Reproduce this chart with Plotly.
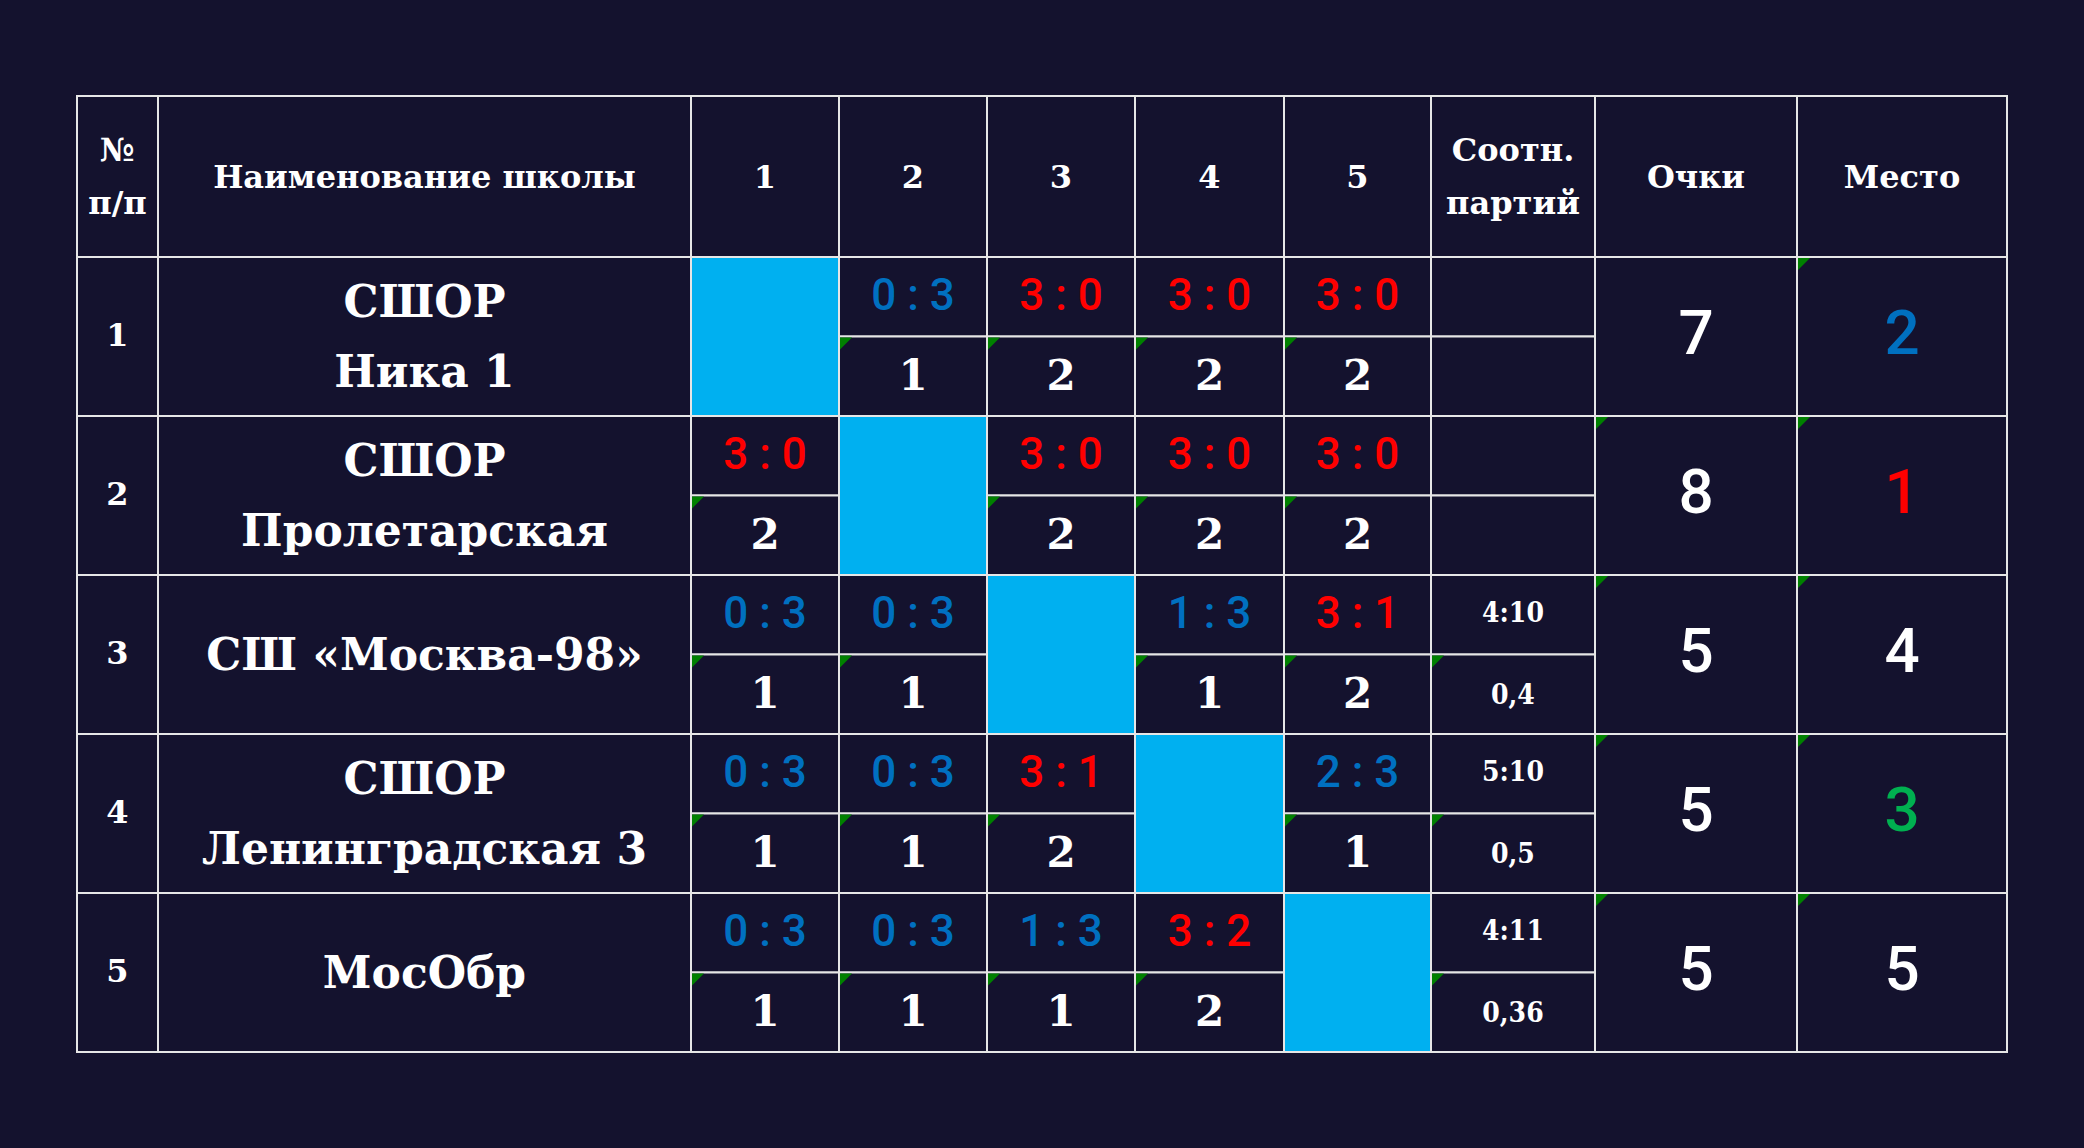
import plotly.graph_objects as go

# ── Couleurs / polices ────────────────────────────────────────────────────────
BG = "#14122e"
GRID = "#e6e6e6"
CYAN = "#00b0f0"
BLUE = "#0070c0"
RED = "#ff0000"
GREEN = "#00b050"
FLAG = "#008000"
WHITE = "#ffffff"

SLAB = "Roboto Slab, DejaVu Serif, serif"
SLAB_NARROW = "DejaVu Serif Condensed, DejaVu Serif, serif"
SANS = "Roboto, Noto Sans, sans-serif"

# ── Données ───────────────────────────────────────────────────────────────────
headers = ["№\nп/п", "Наименование школы", "1", "2", "3", "4", "5",
           "Соотн.\nпартий", "Очки", "Место"]
schools = ["СШОР\nНика 1", "СШОР\nПролетарская", "СШ «Москва-98»",
           "СШОР\nЛенинградская 3", "МосОбр"]
scores = [
    [None, "0 : 3", "3 : 0", "3 : 0", "3 : 0"],
    ["3 : 0", None, "3 : 0", "3 : 0", "3 : 0"],
    ["0 : 3", "0 : 3", None, "1 : 3", "3 : 1"],
    ["0 : 3", "0 : 3", "3 : 1", None, "2 : 3"],
    ["0 : 3", "0 : 3", "1 : 3", "3 : 2", None],
]
game_pts = [
    [None, 1, 2, 2, 2],
    [2, None, 2, 2, 2],
    [1, 1, None, 1, 2],
    [1, 1, 2, None, 1],
    [1, 1, 1, 2, None],
]
set_ratio = ["", "", "4:10", "5:10", "4:11"]
set_coef = ["", "", "0,4", "0,5", "0,36"]
points = [7, 8, 5, 5, 5]
places = [2, 1, 4, 3, 5]
place_colors = [BLUE, RED, WHITE, GREEN, WHITE]

# ── Mise en page du tableau ───────────────────────────────────────────────────
W, H = 2084, 1148
COL_W = [81, 533, 148, 148, 148, 149, 147, 164, 202, 210]
X0, Y0 = 77, 96
HEAD_H, ROW_H = 161, 159
TRI = 13

xs = [X0]
for w in COL_W:
    xs.append(xs[-1] + w)
ys = [Y0, Y0 + HEAD_H]
for _ in schools:
    ys.append(ys[-1] + ROW_H)

shapes = []
texts = {}


def cell(x0, y0, x1, y1, fill=BG):
    shapes.append(dict(type="rect", x0=x0, y0=y0, x1=x1, y1=y1, xref="x", yref="y",
                       fillcolor=fill, line=dict(color=GRID, width=2), layer="below"))


def flag(x0, y0):
    shapes.append(dict(type="path", xref="x", yref="y",
                       path=f"M {x0 + 1},{y0 + 1} L {x0 + TRI},{y0 + 1} L {x0 + 1},{y0 + TRI} Z",
                       fillcolor=FLAG, line=dict(width=0), layer="above"))


def put(style, x, y, txt, spacing=0):
    lines = txt.split("\n")
    n = len(lines)
    for k, line in enumerate(lines):
        texts.setdefault(style, []).append((x, y + (k - (n - 1) / 2) * spacing, line))


def cx(j):
    return (xs[j] + xs[j + 1]) / 2


# en-tête
for j, h in enumerate(headers):
    cell(xs[j], ys[0], xs[j + 1], ys[1])
    put("head", cx(j), (ys[0] + ys[1]) / 2 + 3, h, spacing=53)

for i, name in enumerate(schools):
    top, bot = ys[i + 1], ys[i + 2]
    mid = (top + bot) / 2
    cell(xs[0], top, xs[1], bot)
    put("num", cx(0), mid + 1, str(i + 1))
    cell(xs[1], top, xs[2], bot)
    put("name", cx(1), mid + 4, name, spacing=70)

    for k in range(5):
        j = k + 2
        if scores[i][k] is None:
            cell(xs[j], top, xs[j + 1], bot, fill=CYAN)
            continue
        cell(xs[j], top, xs[j + 1], mid)
        cell(xs[j], mid, xs[j + 1], bot)
        a, b = [int(v) for v in scores[i][k].split(":")]
        put("win" if a > b else "loss", cx(j), (top + mid) / 2 + 2, scores[i][k])
        put("pts", cx(j), (mid + bot) / 2 + 3, str(game_pts[i][k]))
        flag(xs[j], mid)

    cell(xs[7], top, xs[8], mid)
    cell(xs[7], mid, xs[8], bot)
    if set_ratio[i]:
        put("ratio", cx(7), (top + mid) / 2, set_ratio[i])
        put("ratio", cx(7), (mid + bot) / 2 + 3, set_coef[i])
        flag(xs[7], mid)

    cell(xs[8], top, xs[9], bot)
    put("total", cx(8), mid + 2, str(points[i]))
    if i > 0:
        flag(xs[8], top)
    cell(xs[9], top, xs[10], bot)
    put("place%d" % i, cx(9), mid + 2, str(places[i]))
    flag(xs[9], top)

STYLES = {
    "head": dict(family=SLAB, size=32, color=WHITE, weight="bold"),
    "num": dict(family=SLAB, size=32, color=WHITE, weight="bold"),
    "name": dict(family=SLAB, size=44, color=WHITE, weight="bold"),
    "win": dict(family=SANS, size=44, color=RED, weight=500),
    "loss": dict(family=SANS, size=44, color=BLUE, weight=500),
    "pts": dict(family=SLAB, size=42, color=WHITE, weight="bold"),
    "ratio": dict(family=SLAB_NARROW, size=28, color=WHITE, weight="bold"),
    "total": dict(family=SANS, size=62, color=WHITE, weight=500),
}
for i, c in enumerate(place_colors):
    STYLES["place%d" % i] = dict(family=SANS, size=62, color=c, weight=500)

fig = go.Figure()
for style, items in texts.items():
    fig.add_trace(go.Scatter(
        x=[t[0] for t in items], y=[t[1] for t in items], text=[t[2] for t in items],
        mode="text", textposition="middle center", textfont=STYLES[style],
        hoverinfo="skip", showlegend=False))

fig.update_layout(
    width=W, height=H, margin=dict(l=0, r=0, t=0, b=0),
    paper_bgcolor=BG, plot_bgcolor=BG, shapes=shapes,
    xaxis=dict(range=[0, W], visible=False, fixedrange=True),
    yaxis=dict(range=[H, 0], visible=False, fixedrange=True),
)

fig.write_html("out.html", config={"displayModeBar": False},
               post_script="document.body.style.margin='0';document.body.style.overflow='hidden';")
